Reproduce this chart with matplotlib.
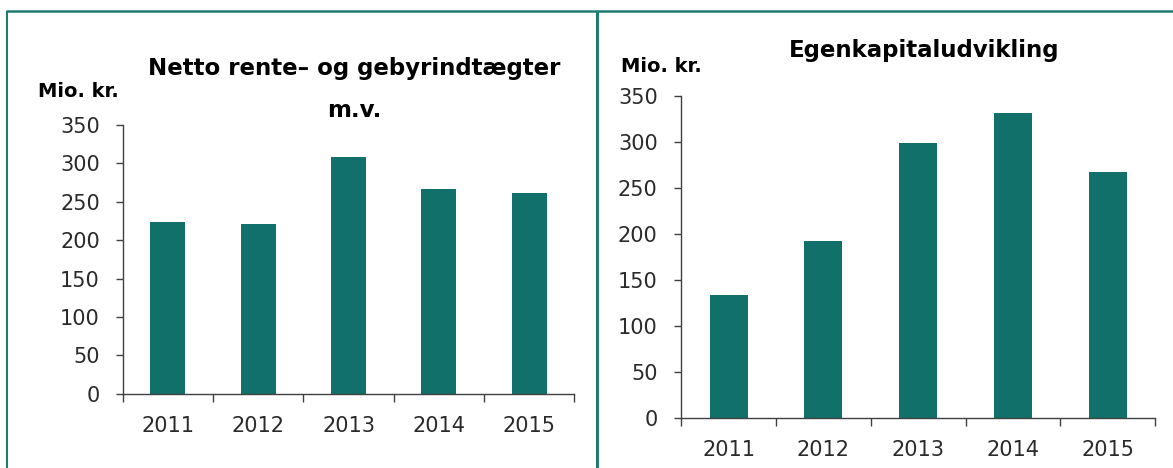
import matplotlib
matplotlib.use("Agg")
import matplotlib.pyplot as plt
from matplotlib.lines import Line2D
import numpy as np

years = ["2011", "2012", "2013", "2014", "2015"]
netto_rente = [224, 221, 308, 266, 261]
egenkapital = [134, 192, 299, 332, 267]
yticks = [0, 50, 100, 150, 200, 250, 300, 350]

BAR = "#12706a"
BORDER = "#1f7a70"
AXC = "#404040"
TXT = "#2a2a2a"

W, H = 1173, 468
fig = plt.figure(figsize=(W / 100, H / 100), dpi=100)
fig.patch.set_facecolor("white")

def fx(px):
    return px / W

def fy(py):
    return 1 - py / H

def make_axes(rect, values, width, ypad):
    ax = fig.add_axes(rect)
    x = np.arange(len(years))
    ax.bar(x, values, width=width, color=BAR, edgecolor="none", zorder=2)
    ax.set_xlim(-0.5, len(years) - 0.5)
    ax.set_ylim(0, 350)
    ax.set_yticks(yticks)
    ax.set_yticklabels([str(v) for v in yticks])
    ax.set_xticks(x)
    ax.set_xticklabels(years)
    ax.set_xticks(np.arange(len(years) + 1) - 0.5, minor=True)
    for s in ("top", "right"):
        ax.spines[s].set_visible(False)
    for s in ("left", "bottom"):
        ax.spines[s].set_color(AXC)
        ax.spines[s].set_linewidth(1.0)
    ax.tick_params(axis="x", which="major", length=0, pad=16, labelsize=15, labelcolor=TXT)
    ax.tick_params(axis="x", which="minor", length=5.8, width=1.0, color=AXC, direction="out")
    ax.tick_params(axis="y", which="major", length=5, width=1.0, color=AXC, direction="out",
                   pad=ypad, labelsize=15, labelcolor=TXT)
    ax.set_facecolor("none")
    return ax

# Left chart
make_axes([fx(122.7), fy(393.7), fx(574.3 - 122.7), (393.7 - 125) / H], netto_rente, 0.39, 11.5)
# Right chart
make_axes([fx(681.3), fy(417.7), fx(1155 - 681.3), (417.7 - 96) / H], egenkapital, 0.40, 12)

# Titles and unit labels
fig.text(fx(354.5), fy(75), "Netto rente\u2013 og gebyrindtægter", ha="center", va="baseline",
         fontsize=16.5, fontweight="bold", color="black")
fig.text(fx(354.5), fy(117), "m.v.", ha="center", va="baseline",
         fontsize=16.5, fontweight="bold", color="black")
fig.text(fx(37.7), fy(96.7), "Mio. kr.", ha="left", va="baseline",
         fontsize=14, fontweight="bold", color="black")

fig.text(fx(924), fy(57.3), "Egenkapitaludvikling", ha="center", va="baseline",
         fontsize=16.5, fontweight="bold", color="black")
fig.text(fx(620.7), fy(71.7), "Mio. kr.", ha="left", va="baseline",
         fontsize=14, fontweight="bold", color="black")

# Frame lines
fig.add_artist(Line2D([fx(6.2), 1.0], [fy(10.7), fy(10.7)], color=BORDER, linewidth=1.8,
                      solid_capstyle="butt", transform=fig.transFigure))
fig.add_artist(Line2D([fx(7.2), fx(7.2)], [fy(10.7), 0], color=BORDER, linewidth=1.5,
                      solid_capstyle="butt", transform=fig.transFigure))
fig.add_artist(Line2D([fx(597.3), fx(597.3)], [fy(10.7), 0], color=BORDER, linewidth=2.2,
                      solid_capstyle="butt", transform=fig.transFigure))

fig.savefig("out.png", dpi=100, facecolor="white")
